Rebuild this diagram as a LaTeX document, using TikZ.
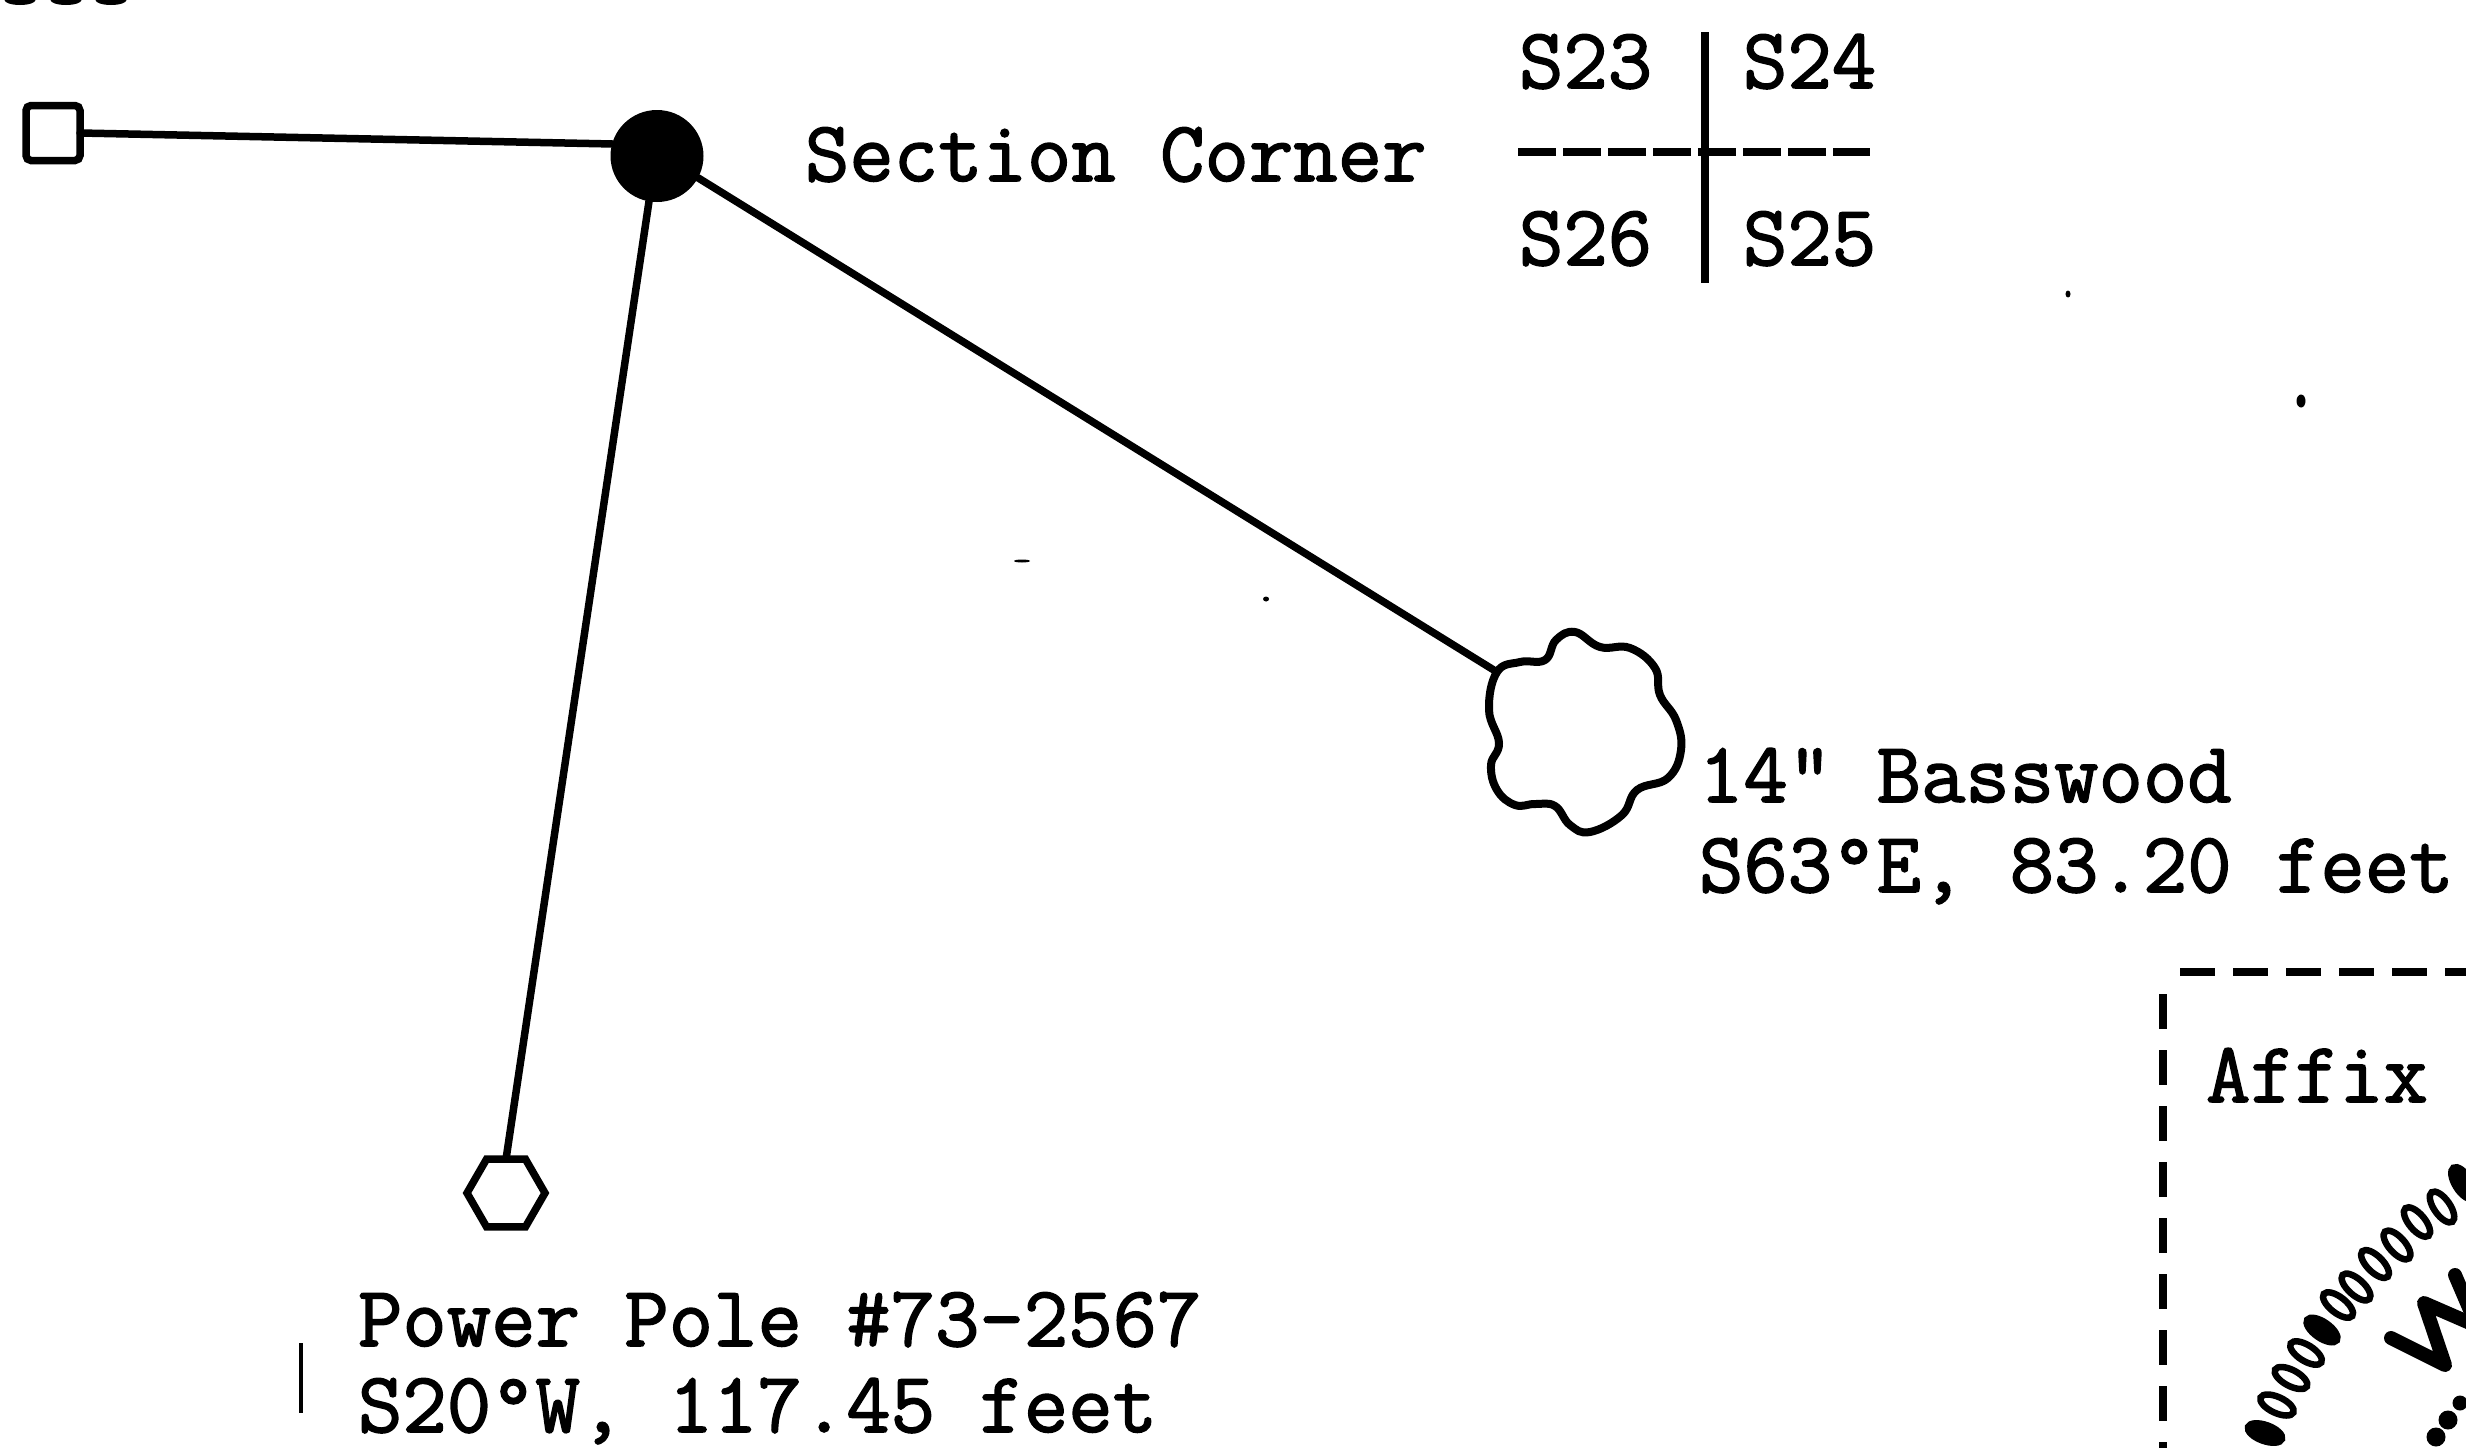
\documentclass[tikz,border=0pt]{standalone}
\usepackage{fontspec}
\usetikzlibrary{shapes.geometric}
\newfontfamily\typew{Latin Modern Mono}[RawFeature={embolden=1.8}]
\definecolor{ink}{HTML}{000000}
\tikzset{
  x=1pt,y=-1pt,
  lab/.style={anchor=base west,inner sep=0pt,outer sep=0pt,text=ink,font=\typew\fontsize{86.2}{100}\selectfont},
  wire/.style={draw=ink,line width=7.5pt,line cap=round},
  sym/.style={draw=ink,line width=7.5pt,inner sep=0pt,outer sep=0pt,fill=white},
  ringchar/.style={ellipse,draw=ink,line width=6.5pt,inner sep=0pt,minimum width=36pt,minimum height=16pt},
  speck/.style={ellipse,fill=ink,inner sep=0pt},
}
\begin{document}
\begin{tikzpicture}
\useasboundingbox (0,0) rectangle (2466,1448);
\clip (0,0) rectangle (2466,1448);
\fill[white] (0,0) rectangle (2466,1448);

% clipped letters at the top edge
\foreach \n/\sx in {ta/20,tb/66,tc/111}{
  \node[speck,minimum width=31pt,minimum height=10pt] (\n) at (\sx,0) {};
}

% survey symbols
\node[sym,rectangle,rounded corners=5pt,minimum width=54pt,minimum height=55pt] (sq) at (53,133) {};
\node[ellipse,fill=ink,inner sep=0pt,outer sep=0pt,minimum width=93pt,minimum height=92pt] (dot) at (657,156) {};
\node[sym,regular polygon,regular polygon sides=6,minimum size=78pt] (hex) at (506,1193) {};
\draw[sym,fill=none,line width=8pt,line join=round]
  plot[smooth cycle,tension=0.7] coordinates {
  (1497,672)(1520,662)(1545,660)(1556,640)(1575,632)(1600,647)(1630,648)(1655,668)
  (1660,695)(1676,720)(1681,750)(1668,778)(1637,790)(1622,815)(1590,832)(1570,825)
  (1555,806)(1535,804)(1515,805)(1497,790)(1491,765)(1499,743)(1489,710)};
\coordinate (tree) at (1497,672);

% connectors
\draw[wire] (sq.east) -- (dot.165);
\draw[wire] (dot.260) -- (hex.north);
\draw[wire] (dot.-28) -- (tree);

% section cross
\coordinate (vt) at (1705,32);
\coordinate (vb) at (1705,283);
\coordinate (hl) at (1518,152);
\coordinate (hr) at (1870,152);
\draw[draw=ink,line width=8pt] (vt) -- (vb);
\draw[draw=ink,line width=8pt,dash pattern=on 38pt off 7pt] (hl) -- (hr);

% labels
\node[lab] (s23) at (1519,88) {S23};
\node[lab] (s24) at (1743,88) {S24};
\node[lab] (s26) at (1519,265) {S26};
\node[lab] (s25) at (1743,265) {S25};
\node[lab] (sc) at (805,181) {Section Corner};
\node[lab] (bw1) at (1699,802) {14" Basswood};
\node[lab] (bw2) at (1699,892) {S63°E, 83.20 feet};
\node[lab] (pp1) at (358,1346) {Power Pole \#73-2567};
\node[lab] (pp2) at (358,1432) {S20°W, 117.45 feet};
\node[lab] (af) at (2206,1102) {Affix};

% small tick and specks
\coordinate (tk) at (301,1343);
\coordinate (tb) at (301,1413);
\draw[draw=ink,line width=3.5pt] (tk) -- (tb);
\node[speck,minimum width=5pt,minimum height=7pt] (sa) at (2068,294) {};
\node[speck,minimum width=9pt,minimum height=13pt] (sb) at (2301,401) {};
\node[speck,minimum width=16pt,minimum height=3pt] (sc2) at (1022,561) {};
\node[speck,minimum width=6pt,minimum height=5pt] (sd) at (1266,599) {};

% dashed affix box
\coordinate (bl) at (2180,972);
\coordinate (br) at (2466,972);
\coordinate (lt) at (2163,994);
\coordinate (lb) at (2163,1448);
\draw[draw=ink,line width=8pt,dash pattern=on 35pt off 18pt] (bl) -- (br);
\draw[draw=ink,line width=8pt,dash pattern=on 35pt off 21pt] (lt) -- (lb);

% part of the round seal
\foreach \i/\cx/\cy/\ang/\inner in {
  1/2265/1433/-20/ink,2/2277/1405/-25/white,3/2291/1378/-28/white,4/2306/1353/-32/white,
  5/2322/1330/-35/ink,6/2338/1305/-38/white,7/2356/1287/-42/white,8/2375/1264/-45/white,
  9/2397/1245/-48/white,10/2417/1222/-50/white,11/2442/1207/-55/white,12/2463/1183/-58/ink}{
  \node[ringchar,fill=\inner,rotate=\ang] (r\i) at (\cx,\cy) {};
}
\draw[draw=ink,line width=14pt,line cap=round,line join=round]
  (2391,1338) -- (2445,1365) -- (2424,1303) -- (2470,1323);
\draw[draw=ink,line width=14pt,line cap=round] (2455,1275) -- (2470,1310);
\node[speck,minimum width=19pt,minimum height=19pt] (d1) at (2436,1437) {};
\node[speck,minimum width=19pt,minimum height=19pt] (d2) at (2448,1420) {};
\node[speck,minimum width=15pt,minimum height=15pt] (d3) at (2460,1403) {};
\end{tikzpicture}
\end{document}
